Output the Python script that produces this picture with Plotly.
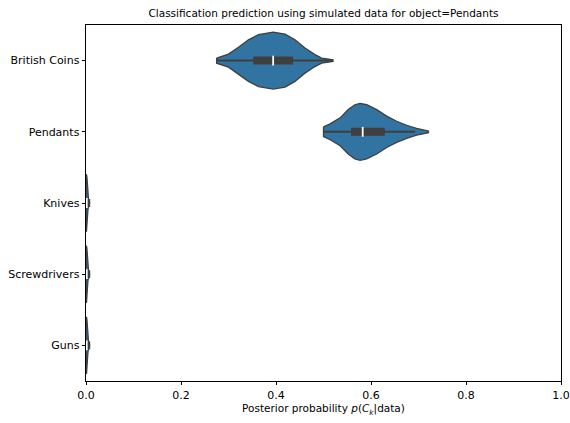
import plotly.graph_objects as go

# Categories, top to bottom
categories = ["British Coins", "Pendants", "Knives", "Screwdrivers", "Guns"]

# Kernel density profiles (probability grid, density relative to each violin's peak)
coins_grid = [0.275, 0.300, 0.321, 0.342, 0.363, 0.394, 0.419, 0.440, 0.461, 0.482, 0.496, 0.520]
coins_dens = [0.09, 0.23, 0.47, 0.73, 0.91, 1.00, 0.93, 0.73, 0.44, 0.21, 0.09, 0.03]

pendants_grid = [0.500, 0.514, 0.535, 0.552, 0.566, 0.577, 0.591, 0.612, 0.633, 0.654, 0.675, 0.696, 0.721]
pendants_dens = [0.17, 0.28, 0.49, 0.78, 0.95, 1.00, 0.95, 0.78, 0.55, 0.37, 0.23, 0.12, 0.03]

knives_grid = [0.000, 0.001, 0.002, 0.003, 0.004, 0.006]
knives_dens = [0.98, 1.00, 0.90, 0.60, 0.25, 0.04]

screwdrivers_grid = [0.000, 0.001, 0.002, 0.003, 0.004, 0.006]
screwdrivers_dens = [0.97, 1.00, 0.88, 0.58, 0.24, 0.04]

guns_grid = [0.000, 0.001, 0.002, 0.003, 0.004, 0.006]
guns_dens = [0.96, 1.00, 0.90, 0.62, 0.26, 0.05]

# Box statistics per category: whisker low, q1, median, q3, whisker high
whisker_low = [0.275, 0.500, 0.000, 0.000, 0.000]
q1_vals = [0.352, 0.558, 0.0005, 0.0005, 0.0005]
medians = [0.394, 0.5825, 0.0016, 0.0016, 0.0016]
q3_vals = [0.436, 0.629, 0.0088, 0.0088, 0.0088]
whisker_high = [0.520, 0.693, 0.0088, 0.0088, 0.0088]

profiles = [
    (coins_grid, coins_dens),
    (pendants_grid, pendants_dens),
    (knives_grid, knives_dens),
    (screwdrivers_grid, screwdrivers_dens),
    (guns_grid, guns_dens),
]

FILL = "#3274a1"
EDGE = "#3f3f3f"
HALF_WIDTH = 0.4
FONT = "DejaVu Sans"

fig = go.Figure()

for i, (grid, dens) in enumerate(profiles):
    xs = list(grid) + list(reversed(grid))
    ys = [i - HALF_WIDTH * d for d in dens] + [i + HALF_WIDTH * d for d in reversed(dens)]
    xs.append(xs[0])
    ys.append(ys[0])
    fig.add_trace(go.Scatter(
        x=xs, y=ys, mode="lines", fill="toself", fillcolor=FILL,
        line=dict(color=EDGE, width=1.3), hoverinfo="skip", showlegend=False,
    ))
    # whiskers
    fig.add_trace(go.Scatter(
        x=[whisker_low[i], whisker_high[i]], y=[i, i], mode="lines",
        line=dict(color=EDGE, width=2), hoverinfo="skip", showlegend=False,
    ))
    # interquartile box
    fig.add_trace(go.Scatter(
        x=[q1_vals[i], q3_vals[i]], y=[i, i], mode="lines",
        line=dict(color=EDGE, width=8), hoverinfo="skip", showlegend=False,
    ))
    # median
    fig.add_trace(go.Scatter(
        x=[medians[i]], y=[i], mode="markers",
        marker=dict(symbol="line-ns", size=7, line=dict(color="white", width=1.8)),
        hoverinfo="skip", showlegend=False,
    ))

fig.update_layout(
    width=570, height=423, autosize=False,
    margin=dict(l=86, r=9, t=25, b=42, autoexpand=False),
    paper_bgcolor="white", plot_bgcolor="white",
    font=dict(family=FONT, size=11, color="black"),
    title=dict(
        text="Classification prediction using simulated data for object=Pendants",
        x=0.5, xref="paper", xanchor="center", y=1 - 13 / 423, yanchor="middle",
        font=dict(family=FONT, size=10.5, color="black"),
    ),
    xaxis=dict(
        range=[0, 1], tickvals=[0, 0.2, 0.4, 0.6, 0.8, 1.0],
        ticktext=["0.0", "0.2", "0.4", "0.6", "0.8", "1.0"],
        ticks="outside", ticklen=3.5, tickwidth=0.8, tickcolor="black",
        showline=True, linecolor="black", linewidth=0.8, mirror=True,
        showgrid=False, zeroline=False, automargin=False,
        title=dict(text="Posterior probability <i>p</i>(<i>C</i><sub><i>k</i></sub>|data)",
                   font=dict(family=FONT, size=10.5), standoff=4),
        tickfont=dict(family=FONT, size=11),
    ),
    yaxis=dict(
        range=[4.5, -0.5], tickvals=list(range(len(categories))), ticktext=categories,
        ticks="outside", ticklen=3.5, tickwidth=0.8, tickcolor="black",
        showline=True, linecolor="black", linewidth=0.8, mirror=True,
        showgrid=False, zeroline=False, automargin=False,
        tickfont=dict(family=FONT, size=11),
    ),
)

fig.write_html("out.html")
